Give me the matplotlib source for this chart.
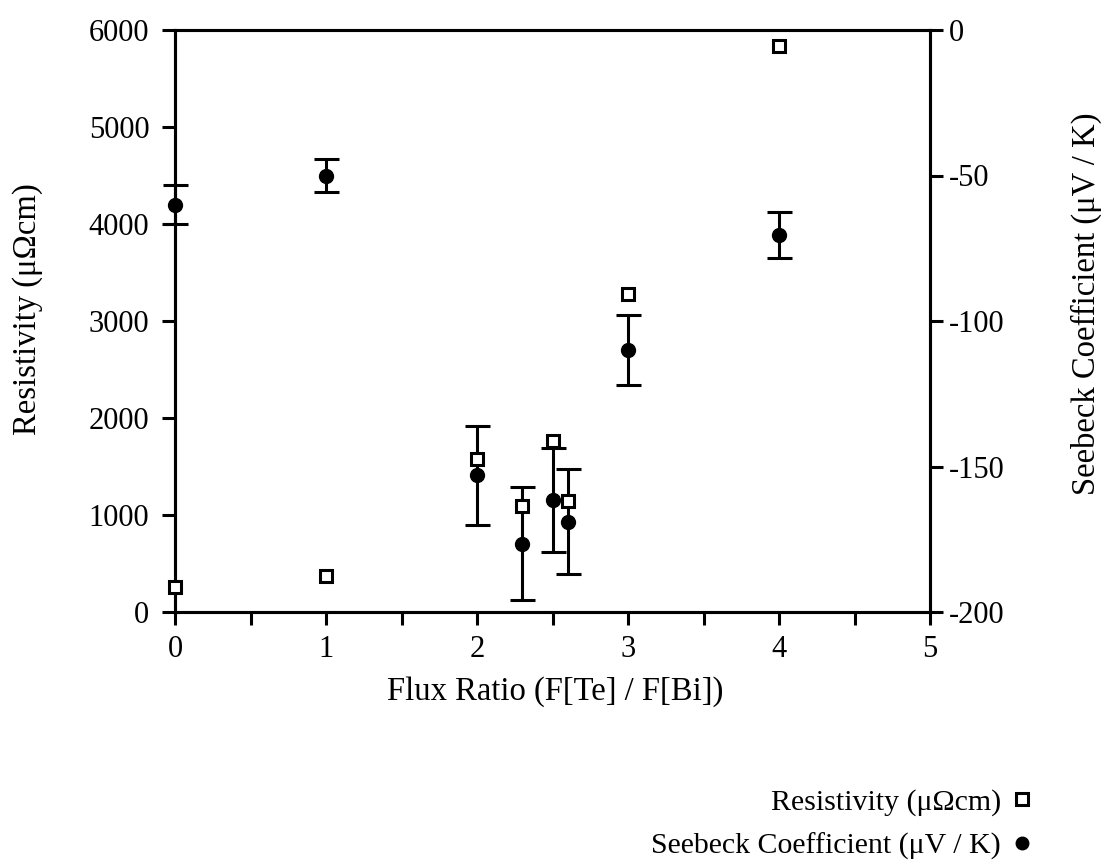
import matplotlib
matplotlib.use("Agg")
import matplotlib.pyplot as plt
from matplotlib.lines import Line2D

plt.rcParams['font.family'] = ['Liberation Serif', 'DejaVu Serif']

flux_ratio = [0, 1, 2, 2.3, 2.5, 2.6, 3, 4]
resistivity = [260, 370, 1580, 1090, 1760, 1140, 3280, 5830]
seebeck = [-60, -50, -153, -176.5, -161.5, -169, -110, -70.5]
seebeck_err = [6.7, 5.6, 17, 19.5, 18, 18, 12, 8]

x_ticks = [0, 1, 2, 3, 4, 5]
x_minor = [0.5, 1.5, 2.5, 3.5, 4.5]
res_ticks = [0, 1000, 2000, 3000, 4000, 5000, 6000]
see_ticks = [0, -50, -100, -150, -200]
see_labels = ['0', '-50', '-100', '-150', '-200']

fig = plt.figure(figsize=(11.04, 8.6), dpi=100)
ax = fig.add_axes([175/1104, 1-612/860, (930-175)/1104, (612-30)/860])
ax2 = ax.twinx()

lw = 2.2
for a in (ax, ax2):
    for s in a.spines.values():
        s.set_linewidth(lw)

ax2.errorbar(flux_ratio, seebeck, yerr=seebeck_err, fmt='o', color='black',
             markersize=10, elinewidth=2.2, capsize=9, capthick=2.2, clip_on=False)
ax.plot(flux_ratio, resistivity, 's', markersize=8.5, markerfacecolor='white',
        markeredgecolor='black', markeredgewidth=2.2, clip_on=False, zorder=5)

ax.set_zorder(ax2.get_zorder() + 1)
ax.patch.set_visible(False)

ax.set_xlim(0, 5)
ax.set_ylim(0, 6000)
ax2.set_ylim(-200, 0)

ax.set_xticks(x_ticks)
ax.set_xticklabels([str(t) for t in x_ticks])
ax.set_xticks(x_minor, minor=True)
ax.set_yticks(res_ticks)
ax.set_yticklabels([str(t) for t in res_ticks])
ax2.set_yticks(see_ticks)
ax2.set_yticklabels(see_labels)

ax.tick_params(axis='both', which='both', direction='out', length=9.5, width=2.2,
               labelsize=22, pad=7)
ax.tick_params(axis='y', right=False, pad=9)
ax2.tick_params(axis='y', direction='out', length=9.5, width=2.2, labelsize=22, pad=4)

ax.set_xlabel('Flux Ratio (F[Te] / F[Bi])', fontsize=23.5)
ax.set_ylabel('Resistivity (μΩcm)', fontsize=23.5)
ax2.set_ylabel('Seebeck Coefficient (μV / K)', fontsize=23.5)
ax.xaxis.set_label_coords(0.503, (612-676)/582)
ax.yaxis.set_label_coords((43-175)/755, 0.52)
ax2.yaxis.set_label_coords((1071-175)/755, 0.53)

handles = [
    Line2D([], [], linestyle='none', marker='s', markersize=8.5, markerfacecolor='white',
           markeredgecolor='black', markeredgewidth=2.2),
    Line2D([], [], linestyle='none', marker='o', markersize=9, color='black'),
]
labels = ['Resistivity (μΩcm)', 'Seebeck Coefficient (μV / K)']
fig.legend(handles, labels, loc='upper right', markerfirst=False, frameon=False,
           fontsize=21.5, bbox_to_anchor=(1043/1104, 1-777/860), handletextpad=0.4,
           handlelength=0.6, labelspacing=0.55, borderaxespad=0, borderpad=0.4)

fig.savefig('out.png', dpi=100)
